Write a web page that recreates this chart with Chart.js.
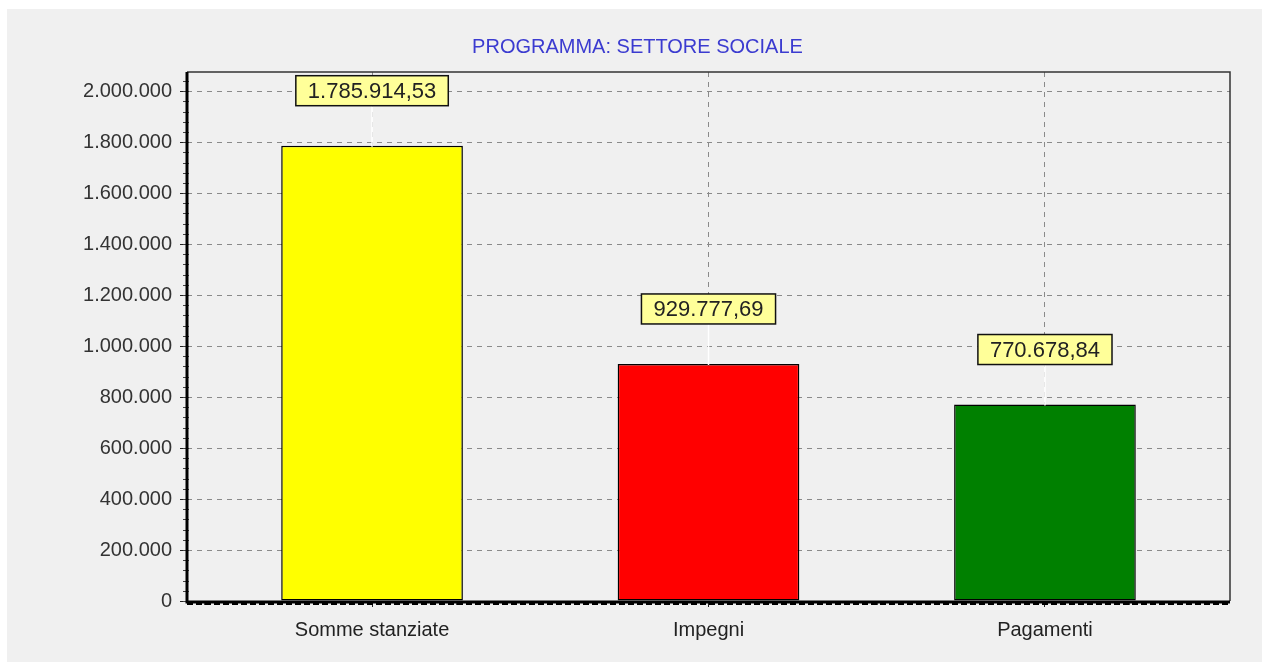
<!DOCTYPE html>
<html>
<head>
<meta charset="utf-8">
<script src="https://cdn.jsdelivr.net/npm/chart.js@4"></script>
<style>
  body { margin: 0; background: #fff; }
  #wrap { position: absolute; left: 7px; top: 9px; width: 1255px; height: 653px; background: #f0f0f0; }
</style>
</head>
<body>
<div id="wrap"><canvas id="barChart"></canvas></div>
<script>
const categories = ['Somme stanziate', 'Impegni', 'Pagamenti'];
const values = [1785914.53, 929777.69, 770678.84];
const barColors = ['#ffff00', '#ff0000', '#008000'];
const yTicks = [0, 200000, 400000, 600000, 800000, 1000000, 1200000, 1400000, 1600000, 1800000, 2000000];
const titleText = 'PROGRAMMA: SETTORE SOCIALE';
const FONT = '"Liberation Sans", Arial, sans-serif';

function itNum(v, dec) {
    const parts = v.toFixed(dec).split('.');
    parts[0] = parts[0].replace(/\B(?=(\d{3})+(?!\d))/g, '.');
    return parts.join(',');
}

// frame, minor ticks, value boxes
const decorations = {
    id: 'decorations',
    afterDatasetsDraw(chart) {
        const { ctx, chartArea: a, scales } = chart;
        const y = scales.y, x = scales.x;
        ctx.save();
        // top / right frame
        ctx.strokeStyle = '#333';
        ctx.lineWidth = 1.5;
        ctx.beginPath();
        ctx.moveTo(a.left, a.top); ctx.lineTo(a.right, a.top); ctx.lineTo(a.right, a.bottom);
        ctx.stroke();
        // minor y ticks
        ctx.strokeStyle = '#444';
        ctx.lineWidth = 1;
        for (let v = 0; v <= y.max; v += 40000) {
            const py = Math.round(y.getPixelForValue(v)) + 0.5;
            ctx.beginPath(); ctx.moveTo(a.left - 4, py); ctx.lineTo(a.left + 2, py); ctx.stroke();
        }
        // minor x ticks
        for (let v = -0.5; v <= 2.5; v += 0.25) {
            const px = Math.round(x.getPixelForValue(v)) + 0.5;
            ctx.beginPath(); ctx.moveTo(px, a.bottom); ctx.lineTo(px, a.bottom + 4); ctx.stroke();
        }
        // thick axes
        ctx.strokeStyle = '#000';
        ctx.lineWidth = 3;
        ctx.beginPath();
        ctx.moveTo(a.left, a.top); ctx.lineTo(a.left, a.bottom + 1); ctx.lineTo(a.right, a.bottom + 1);
        ctx.stroke();
        ctx.lineWidth = 2;
        ctx.setLineDash([6, 3]);
        ctx.beginPath(); ctx.moveTo(a.left, a.bottom + 3); ctx.lineTo(a.right, a.bottom + 3); ctx.stroke();
        ctx.setLineDash([]);

        // value boxes
        ctx.font = '22px ' + FONT;
        ctx.textAlign = 'center';
        ctx.textBaseline = 'middle';
        chart.getDatasetMeta(0).data.forEach((el, i) => {
            const txt = itNum(values[i], 2);
            const w = ctx.measureText(txt).width + 24;
            const h = 30;
            const cy = el.y - 55;
            ctx.strokeStyle = '#fff';
            ctx.lineWidth = 1.5;
            ctx.beginPath(); ctx.moveTo(el.x, cy + h / 2); ctx.lineTo(el.x, el.y + 1); ctx.stroke();
            ctx.fillStyle = '#ffff99';
            ctx.fillRect(el.x - w / 2, cy - h / 2, w, h);
            ctx.strokeStyle = '#111';
            ctx.lineWidth = 1.5;
            ctx.strokeRect(el.x - w / 2, cy - h / 2, w, h);
            ctx.fillStyle = '#222';
            ctx.fillText(txt, el.x, cy + 1);
        });
        ctx.restore();
    }
};

const ctx = document.getElementById('barChart').getContext('2d');
const barChart = new Chart(ctx, {
    type: 'bar',
    data: {
        datasets: [{
            data: values.map((v, i) => ({ x: i, y: v })),
            backgroundColor: barColors,
            borderColor: '#000',
            borderWidth: 1.5,
            borderSkipped: false,
            categoryPercentage: 1,
            barPercentage: 0.54
        }]
    },
    options: {
        responsive: true,
        maintainAspectRatio: false,
        animation: false,
        layout: { padding: { left: 38, right: 32, top: 0, bottom: 0 } },
        plugins: {
            legend: { display: false },
            tooltip: { enabled: false },
            title: {
                display: true,
                text: titleText,
                color: '#3b3bd0',
                font: { family: FONT, size: 20, weight: 'normal' },
                padding: { top: 26, bottom: 13 }
            }
        },
        scales: {
            x: {
                type: 'linear',
                min: -0.55,
                max: 2.55,
                offset: false,
                afterBuildTicks: s => { s.ticks = categories.map((c, i) => ({ value: i })); },
                afterFit: s => { s.height = 61; },
                ticks: {
                    callback: v => categories[v],
                    color: '#222',
                    font: { family: FONT, size: 20 },
                    padding: 11,
                    maxRotation: 0
                },
                grid: {
                    offset: false,
                    color: '#8a8a8a',
                    tickColor: '#222',
                    tickLength: 6,
                    tickBorderDash: []
                },
                border: { display: false, dash: [5, 5] }
            },
            y: {
                min: 0,
                max: 2075000,
                afterBuildTicks: s => { s.ticks = yTicks.map(v => ({ value: v })); },
                afterFit: s => { s.width = 142; },
                ticks: {
                    callback: v => itNum(v, 0),
                    color: '#333',
                    font: { family: FONT, size: 20 },
                    padding: 8
                },
                grid: {
                    color: '#8a8a8a',
                    tickColor: '#222',
                    tickLength: 7,
                    tickBorderDash: []
                },
                border: { display: false, dash: [5, 5] }
            }
        }
    },
    plugins: [decorations]
});
</script>
</body>
</html>
